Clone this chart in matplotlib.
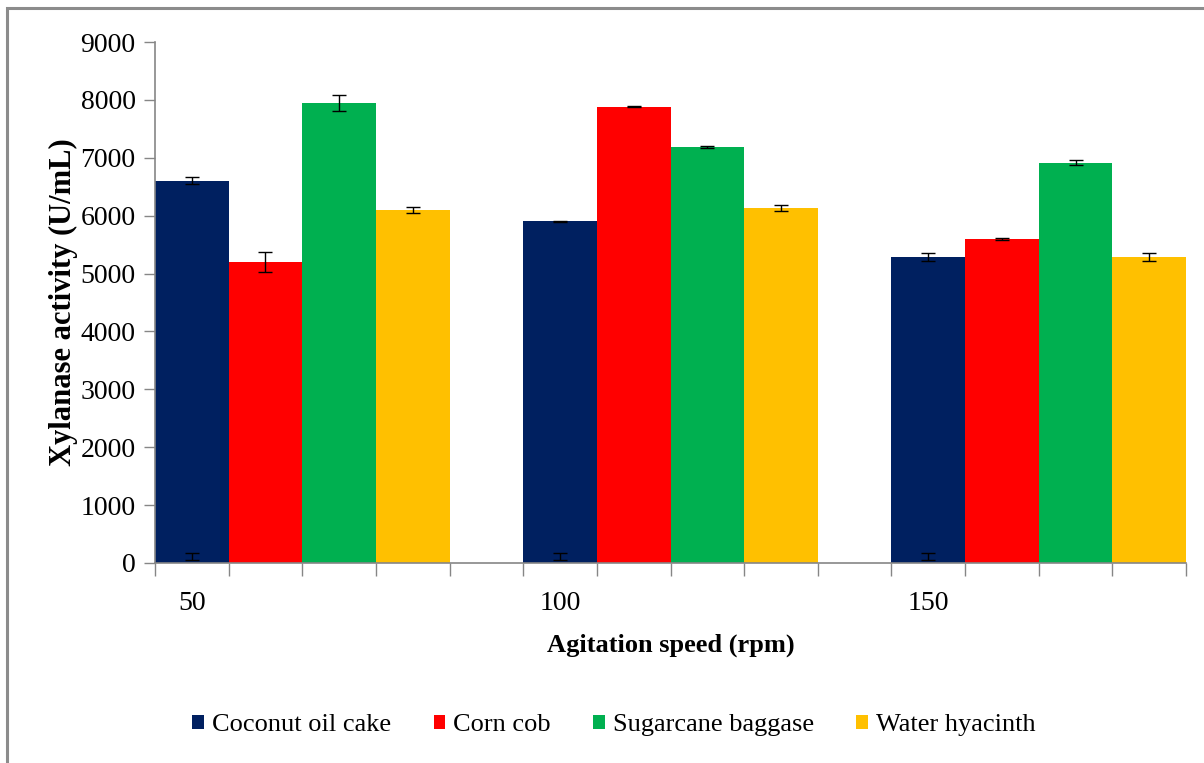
import numpy as np
import matplotlib
matplotlib.use('Agg')
import matplotlib.pyplot as plt
from matplotlib.patches import Rectangle

plt.rcParams['font.family'] = ['Liberation Serif', 'DejaVu Serif']

speeds = ['50', '100', '150']
substrates = ['Coconut oil cake', 'Corn cob', 'Sugarcane baggase', 'Water hyacinth']
coconut = [6600, 5900, 5290]
corn = [5200, 7880, 5600]
sugarcane = [7950, 7190, 6915]
hyacinth = [6100, 6130, 5290]
coconut_err = [60, 10, 65]
corn_err = [175, 10, 12]
sugarcane_err = [140, 15, 40]
hyacinth_err = [55, 50, 65]
# stray error bars near the base of the coconut bars
base_mark = [110, 110, 110]
base_mark_err = [60, 60, 60]

values = [coconut, corn, sugarcane, hyacinth]
errors = [coconut_err, corn_err, sugarcane_err, hyacinth_err]
colours = ['#002060', '#FF0000', '#00B050', '#FFC000']

f = plt.figure(figsize=(12.04, 7.63), dpi=100)
ax = f.add_axes([155/1204, 1-563/763, (1186-155)/1204, (563-42)/763])

# frame around the figure (only top and left edges visible)
f.patches.append(Rectangle((7/1204, -0.1), 1.2, 1.1 - 8/763, transform=f.transFigure,
                           fill=False, edgecolor='#8c8c8c', linewidth=2.2))

slots_per_group = 5
grp = np.arange(len(speeds)) * slots_per_group
for i, (vals, errs) in enumerate(zip(values, errors)):
    x = grp + i
    ax.bar(x, vals, width=1.0, color=colours[i], label=substrates[i], zorder=2)
    ax.errorbar(x, vals, yerr=errs, fmt='none', ecolor='black', elinewidth=1,
                capsize=5, capthick=1, zorder=3)
ax.errorbar(grp, base_mark, yerr=base_mark_err, fmt='none', ecolor='black',
            elinewidth=1, capsize=5, capthick=1, zorder=3)

ax.set_xlim(-0.5, 13.5)
ax.set_ylim(0, 9000)
ax.set_yticks(np.arange(0, 9001, 1000))
ax.tick_params(axis='y', labelsize=20, length=8, color='#868686', width=1, pad=6)

ax.set_xticks(np.arange(-0.5, 14, 1.0))
ax.set_xticklabels([])
ax.set_xticks(grp, minor=True)
ax.set_xticklabels(speeds, minor=True)
ax.tick_params(axis='x', which='major', length=9, color='#868686', width=1)
ax.tick_params(axis='x', which='minor', length=0, labelsize=20, pad=20)

for s in ['top', 'right']:
    ax.spines[s].set_visible(False)
for s in ['left', 'bottom']:
    ax.spines[s].set_color('#868686')
    ax.spines[s].set_linewidth(1.2)

ax.set_ylabel('Xylanase activity (U/mL)', fontsize=22, fontweight='bold', labelpad=2)
ax.set_xlabel('Agitation speed (rpm)', fontsize=19, fontweight='bold', labelpad=13)

leg = f.legend(loc='center', bbox_to_anchor=(0.51, 1-725/763), ncol=4, frameon=False,
               fontsize=19, handlelength=0.45, handleheight=0.45, handletextpad=0.3,
               columnspacing=1.6)

f.savefig('out.png', dpi=100)
